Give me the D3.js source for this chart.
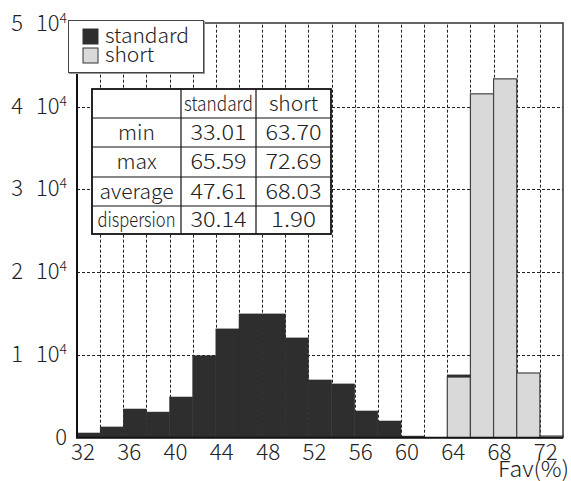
<!DOCTYPE html>
<html>
<head>
<meta charset="utf-8">
<script src="https://cdn.jsdelivr.net/npm/d3@7"></script>
<style>
  body { margin: 0; background: #fff; }
  text { font-family: "Noto Sans CJK JP", "Noto Sans", sans-serif; font-weight: 300; fill: #222; }
</style>
</head>
<body>
<div id="chart"></div>
<script>
// histogram bins (left edge of each 2-unit bin, Fav %)
const binStarts = [32, 34, 36, 38, 40, 42, 44, 46, 48, 50, 52, 54, 56, 58, 60, 62, 64, 66, 68, 70, 72];
const standardCounts = [570, 1300, 3470, 3100, 4920, 9900, 13150, 14960, 14960, 12060, 6980, 6500, 3230, 2020, 200, 0, 250, 0, 0, 0, 0];
const shortCounts = [0, 0, 0, 0, 0, 0, 0, 0, 0, 0, 0, 0, 0, 0, 0, 0, 7340, 41560, 43370, 7820, 200];
const binWidth = 2;

const xTicks = [32, 36, 40, 44, 48, 52, 56, 60, 64, 68, 72];
const yTicks = [0, 1, 2, 3, 4, 5]; // x 10^4

const statNames = ["min", "max", "average", "dispersion"];
const standardStats = ["33.01", "65.59", "47.61", "30.14"];
const shortStats = ["63.70", "72.69", "68.03", "1.90"];

const width = 571, height = 481;
const plotLeft = 77, plotRight = 563, plotTop = 24, plotBottom = 437.7;

const svg = d3.select("#chart").append("svg").attr("width", width).attr("height", height);

const x = d3.scaleLinear().domain([32, 74]).range([plotLeft, plotRight]);
const y = d3.scaleLinear().domain([0, 50000]).range([plotBottom, plotTop]);

// grid lines (dashed)
const grid = svg.append("g").attr("stroke", "#222").attr("stroke-width", 1).attr("stroke-dasharray", "3,2");
grid.selectAll("line.v")
  .data(d3.range(34, 74, 2))
  .join("line")
  .attr("class", "v")
  .attr("x1", d => Math.round(x(d)) + 0.5).attr("x2", d => Math.round(x(d)) + 0.5)
  .attr("y1", plotBottom).attr("y2", plotTop - 1);
grid.selectAll("line.h")
  .data(yTicks.slice(1, 5))
  .join("line")
  .attr("class", "h")
  .attr("x1", plotLeft).attr("x2", plotRight)
  .attr("y1", d => Math.round(y(d * 10000)) + 0.5).attr("y2", d => Math.round(y(d * 10000)) + 0.5);

// short bars
svg.append("g")
  .selectAll("rect")
  .data(binStarts.map((b, i) => ({ b, v: shortCounts[i] })).filter(d => d.v > 0))
  .join("rect")
  .attr("x", d => x(d.b))
  .attr("width", d => x(d.b + binWidth) - x(d.b))
  .attr("y", d => y(d.v))
  .attr("height", d => y(0) - y(d.v))
  .attr("fill", "#d9d9d9")
  .attr("stroke", "#444")
  .attr("stroke-width", 1.2);

// standard bars (stacked above short where they overlap)
svg.append("g")
  .selectAll("rect")
  .data(binStarts.map((b, i) => ({ b, v: standardCounts[i], base: shortCounts[i] })).filter(d => d.v > 0))
  .join("rect")
  .attr("x", d => x(d.b))
  .attr("width", d => x(d.b + binWidth) - x(d.b))
  .attr("y", d => y(d.base + d.v))
  .attr("height", d => y(d.base) - y(d.base + d.v))
  .attr("fill", "#2e2e2e")
  .attr("stroke", "#2e2e2e")
  .attr("stroke-width", 0.5);

// frame
svg.append("path")
  .attr("d", `M${plotLeft},${plotTop - 1}H${plotRight}V${plotBottom}`)
  .attr("fill", "none").attr("stroke", "#333").attr("stroke-width", 1.5);
svg.append("path")
  .attr("d", `M${plotLeft},${plotTop - 1}V${plotBottom}H${plotRight}`)
  .attr("fill", "none").attr("stroke", "#111").attr("stroke-width", 2);

// x axis labels
svg.append("g")
  .selectAll("text")
  .data(xTicks)
  .join("text")
  .attr("x", d => x(d) + 6)
  .attr("y", 460)
  .attr("text-anchor", "middle")
  .attr("font-size", 22)
  .attr("textLength", 24)
  .attr("lengthAdjust", "spacingAndGlyphs")
  .text(d => d);

svg.append("text")
  .attr("x", 569).attr("y", 477)
  .attr("text-anchor", "end")
  .attr("font-size", 22)
  .attr("textLength", 71)
  .attr("lengthAdjust", "spacingAndGlyphs")
  .text("Fav(%)");

// y axis labels "n 10^4"
const yl = svg.append("g")
  .selectAll("text")
  .data(yTicks)
  .join("text")
  .attr("x", 67)
  .attr("y", d => y(d * 10000) + 7)
  .attr("text-anchor", "end")
  .attr("font-size", 22);
yl.filter(d => d === 0).text("0");
yl.filter(d => d > 0).each(function (d) {
  const t = d3.select(this);
  t.append("tspan").text(d);
  t.append("tspan").attr("dx", 13).text("10");
  t.append("tspan").attr("dy", -8).attr("font-size", 14).text("4");
});

// legend
const legend = svg.append("g");
legend.append("rect").attr("x", 69).attr("y", 21).attr("width", 136).attr("height", 53).attr("fill", "#999");
legend.append("rect").attr("x", 68.5).attr("y", 20.5).attr("width", 135).attr("height", 52)
  .attr("fill", "#fff").attr("stroke", "#444").attr("stroke-width", 1);
const legendItems = [
  { name: "standard", fill: "#2e2e2e" },
  { name: "short", fill: "#d9d9d9" }
];
legendItems.forEach((d, i) => {
  legend.append("rect").attr("x", 83).attr("y", 29 + i * 19).attr("width", 15).attr("height", 15)
    .attr("fill", d.fill).attr("stroke", "#333").attr("stroke-width", 1);
  legend.append("text").attr("x", 105).attr("y", 43 + i * 19).attr("font-size", 21).text(d.name);
});

// stats table
const tx = [92, 181, 256, 331];
const ty = [89, 118, 147, 177, 206, 234];
const table = svg.append("g");
table.append("rect").attr("x", tx[0]).attr("y", ty[0]).attr("width", tx[3] - tx[0]).attr("height", ty[5] - ty[0])
  .attr("fill", "#fff").attr("stroke", "#111").attr("stroke-width", 1.8);
table.selectAll("line.c").data([tx[1], tx[2]]).join("line").attr("class", "c")
  .attr("x1", d => d).attr("x2", d => d).attr("y1", ty[0]).attr("y2", ty[5])
  .attr("stroke", "#111").attr("stroke-width", 1.2);
table.selectAll("line.r").data(ty.slice(1, 5)).join("line").attr("class", "r")
  .attr("x1", tx[0]).attr("x2", tx[3]).attr("y1", d => d).attr("y2", d => d)
  .attr("stroke", "#111").attr("stroke-width", 1.2);

const cell = (col, row, str, fit) => {
  const t = table.append("text")
    .attr("x", (tx[col] + tx[col + 1]) / 2)
    .attr("y", (ty[row] + ty[row + 1]) / 2 + 7)
    .attr("text-anchor", "middle")
    .attr("font-size", 21)
    .text(str);
  if (fit) t.attr("textLength", fit).attr("lengthAdjust", "spacingAndGlyphs");
};
cell(1, 0, "standard", 69);
cell(2, 0, "short");
statNames.forEach((n, i) => {
  cell(0, i + 1, n, n === "dispersion" ? 78 : null);
  cell(1, i + 1, standardStats[i], 56);
  cell(2, i + 1, shortStats[i], shortStats[i].length === 5 ? 56 : 45);
});
</script>
</body>
</html>
